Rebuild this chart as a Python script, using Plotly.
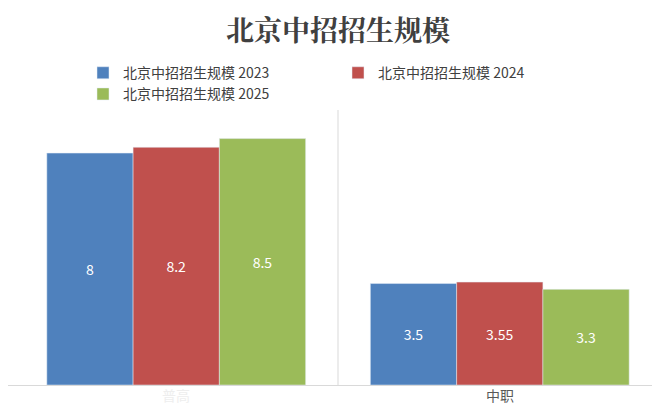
import plotly.graph_objects as go

categories = ['普高', '中职']
series_names = ['北京中招招生规模 2023', '北京中招招生规模 2024', '北京中招招生规模 2025']
values_2023 = [8, 3.5]
values_2024 = [8.2, 3.55]
values_2025 = [8.5, 3.3]
colors = ['#4F81BD', '#C0504D', '#9BBB59']
tick_colors = ['#EEEEEE', '#595959']  # first label is barely visible in the source

fig = go.Figure()
for name, vals, c in zip(series_names, [values_2023, values_2024, values_2025], colors):
    fig.add_trace(go.Bar(
        x=categories, y=vals, name=name, marker_color=c,
        text=[str(v) for v in vals], textposition='inside', insidetextanchor='middle',
        textfont=dict(color='white', size=14, family='Noto Sans CJK SC'),
    ))

fig.add_shape(type='line', xref='x', yref='paper', x0=0.5, x1=0.5, y0=0, y1=0.97,
              line=dict(color='#D9D9D9', width=1))

# tick labels as annotations so each can have its own colour
for cat, tc in zip(categories, tick_colors):
    fig.add_annotation(x=cat, y=0, yref='paper', yshift=-22, text=cat, showarrow=False,
                       font=dict(family='Noto Sans CJK SC', size=14, color=tc))

fig.update_layout(
    width=660, height=415,
    title=dict(text='<b>北京中招招生规模</b>', x=0.5, y=0.945, xanchor='center', yanchor='middle',
               font=dict(family='Noto Serif CJK SC, Noto Sans CJK SC', size=28, color='#404040')),
    barmode='group', bargap=0.2, bargroupgap=0,
    plot_bgcolor='white', paper_bgcolor='white',
    margin=dict(l=0, r=0, t=90, b=38, autoexpand=False),
    legend=dict(orientation='h', x=0.5, xanchor='center', y=1.05, yanchor='middle',
                font=dict(family='Noto Sans CJK SC', size=14, color='#404040'),
                itemwidth=30, tracegroupgap=0, entrywidth=210),
    xaxis=dict(showticklabels=False, showline=True, linecolor='#D9D9D9', ticks='',
               range=[-0.52, 1.52]),
    yaxis=dict(range=[0, 9.9], visible=False),
    showlegend=True,
)
fig.write_html('out.html')
